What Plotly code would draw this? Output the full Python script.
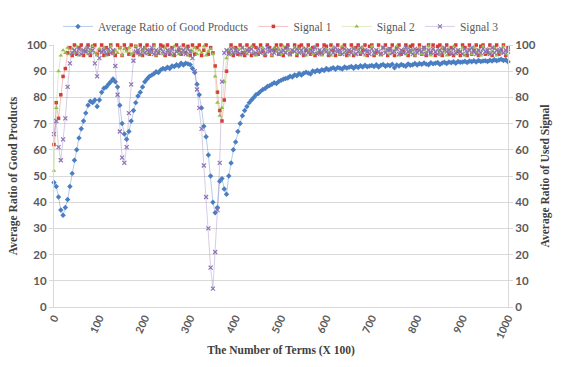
import plotly.graph_objects as go

# Terms (X 100), sampled every 5
terms = list(range(0, 1001, 5))

avg_good = [
    47.5, 46, 42, 37, 35, 38, 41, 46, 51, 56,
    60, 64.5, 68, 71, 74, 77, 78.5, 78, 79, 76.5,
    79, 82, 83.5, 84, 85, 86, 87, 86, 84, 77,
    70, 66, 64, 67, 71, 75, 78, 80.5, 82, 84,
    86, 87, 88, 88.5, 89, 89.8, 89.5, 90.5, 91, 90.8,
    91.5, 91, 92, 91.8, 92.5, 92, 93, 92.4, 93, 92.8,
    92.5, 91, 89.5, 85, 81, 76, 69, 65, 58, 50,
    40, 36, 38, 48, 49, 45, 43, 50, 55, 60,
    63, 67, 70, 73, 75, 76.5, 78, 79, 80, 81,
    81.5, 82.3, 83, 83.4, 84.2, 84.5, 85, 85.6, 85.3, 86.1,
    86.5, 86.9, 87.2, 87.4, 88.1, 87.8, 88.6, 88.3, 89.1, 88.5,
    89.2, 89.6, 89.3, 88.9, 90.1, 89.8, 90.4, 89.9, 90.6, 90.3,
    91, 90.5, 90.9, 91.3, 90.7, 91.4, 91.1, 90.8, 91.6, 91.2,
    91.5, 91.8, 91.1, 91.9, 91.4, 92.1, 91.6, 92.3, 91.7, 92,
    92.2, 91.8, 92.5, 91.6, 92.3, 92.6, 91.9, 92.4, 92.1, 92.7,
    91.3, 92.4, 92.0, 92.6, 92.2, 91.9, 92.8, 92.3, 92.5, 92.9,
    92.4, 92.9, 92.6, 93.1, 92.7, 92.5, 93.2, 92.8, 93.0, 93.3,
    92.6, 93.1, 93.4, 92.9, 93.5, 93.2, 93.6, 93.0, 93.7, 93.4,
    93.5, 93.8, 93.3, 93.9, 93.6, 94.0, 93.5, 94.1, 93.7, 93.9,
    94.0, 93.7, 94.2, 93.9, 94.4, 94.0, 94.3, 94.6, 94.1, 94.4,
    93.6,
]

signal1 = [
    62, 78, 72, 81, 88, 91, 97, 99, 96, 100,
    96.5, 99, 100, 96, 97.5, 100, 96, 99.5, 100, 96.5,
    98, 100, 96, 99, 96.5, 100, 97, 96, 100, 99,
    96, 100, 98.5, 96.5, 100, 96, 99.5, 97, 100, 96,
    99, 100, 96.5, 98, 100, 96, 97, 100, 99.5, 96,
    100, 96.5, 99, 96, 100, 98, 96.5, 100, 97, 99.5,
    96, 100, 96.5, 99, 100, 96, 98, 100, 96.5, 99,
    97, 92, 82, 75, 71, 79, 90, 97, 100, 96,
    99, 96.5, 100, 97, 96, 100, 98.5, 96, 100, 99,
    96.5, 100, 97.5, 96, 100, 99, 96, 98, 100, 96.5,
    100, 96, 99, 100, 96.5, 97.5, 100, 96, 99.5, 100,
    96, 98, 100, 96.5, 99, 96, 100, 97, 96.5, 100,
    99.5, 96, 100, 98, 96, 100, 96.5, 99, 100, 96,
    97.5, 100, 96, 99, 100, 96.5, 98, 100, 96, 99.5,
    100, 96, 97, 100, 96.5, 99, 100, 96, 98.5, 100,
    96, 99, 100, 96.5, 97.5, 100, 96, 99.5, 100, 96,
    98, 100, 96.5, 99, 96, 100, 97, 100, 96, 99.5,
    100, 96, 98.5, 100, 96.5, 99, 96, 100, 97.5, 96,
    100, 99, 96, 100, 96.5, 98, 100, 96, 99.5, 100,
    96.5, 97, 100, 96, 99, 100, 96.5, 98, 100, 96,
    99,
]

signal2 = [
    52, 76, 90, 96, 98, 97, 99, 96.5, 98.5, 97,
    99.5, 96, 98, 97.5, 99, 96.5, 98, 99.5, 97, 96,
    98.5, 97, 99, 96, 97.5, 99.5, 96.5, 98, 97, 99,
    96, 98.5, 97.5, 99, 96.5, 97, 99.5, 98, 96, 97.5,
    99, 96.5, 98, 97, 99.5, 96, 97.5, 98.5, 96.5, 99,
    97, 98, 96, 99.5, 97.5, 96.5, 98.5, 97, 99, 96,
    98, 97.5, 99, 96.5, 98, 97, 99.5, 96, 97.5, 98.5,
    96.5, 88, 78, 73, 76, 86, 95, 98, 96.5, 99,
    97, 98.5, 96, 99, 97.5, 96.5, 98, 99.5, 97, 96,
    98.5, 97, 99, 96.5, 97.5, 98, 96, 99, 97.5, 98.5,
    96.5, 99.5, 97, 98, 96, 97.5, 99, 96.5, 98.5, 97,
    99, 96, 97.5, 98.5, 96.5, 99.5, 97, 98, 96, 97.5,
    98.5, 97, 96, 99, 97.5, 98, 96.5, 99.5, 97, 98,
    96, 97.5, 99, 96.5, 98.5, 97, 99, 96, 98, 97.5,
    99.5, 96.5, 98, 97, 96, 99, 97.5, 98.5, 96.5, 97,
    98, 99.5, 96, 97.5, 98.5, 96.5, 99, 97, 98, 96,
    97.5, 99, 96.5, 98, 97, 99.5, 96, 98.5, 97, 98,
    96.5, 99, 97.5, 96, 98.5, 97, 99.5, 96.5, 98, 97.5,
    99, 96, 97.5, 98.5, 96.5, 99, 97, 98, 96, 99.5,
    97, 98.5, 96.5, 97.5, 99, 96, 98, 97, 99.5, 96.5,
    98,
]

signal3 = [
    66, 71, 61, 56, 64, 72, 84, 93, 97, 98,
    97, 98.5, 96.5, 98, 97.5, 99, 97, 98, 93, 88,
    95, 97.5, 98, 96.5, 98.5, 97, 98, 92, 81, 67,
    57, 55, 61, 74, 85, 94, 97.5, 98, 96.5, 98.5,
    97, 98, 97.5, 99, 96.5, 98, 97, 98.5, 97.5, 96.5,
    98, 97, 98.5, 96.5, 97.5, 99, 97, 98, 96.5, 98.5,
    97.5, 95, 90, 83, 76, 68, 54, 42, 30, 15,
    7, 21, 37, 55, 86, 97, 98, 96.5, 98.5, 97,
    98, 97.5, 96.5, 99, 97, 98, 97.5, 98.5, 96.5, 97,
    98.5, 97, 98, 96.5, 99, 97.5, 98, 97, 98.5, 96.5,
    97.5, 98, 97, 99, 96.5, 98, 97.5, 98.5, 97, 98,
    96.5, 98.5, 97, 98, 97.5, 99, 96.5, 98, 97, 98.5,
    97.5, 96.5, 98, 97, 99, 97.5, 98, 96.5, 98.5, 97,
    98, 97, 98.5, 96.5, 97.5, 99, 97, 98, 97.5, 96.5,
    98.5, 97, 98, 97.5, 96.5, 99, 97, 98, 98.5, 97,
    97.5, 98.5, 96.5, 98, 97, 99, 97.5, 98, 96.5, 98.5,
    97, 98, 97.5, 99, 96.5, 98, 97, 98.5, 97.5, 96.5,
    98, 97, 99, 97.5, 98, 96.5, 98.5, 97, 98, 97.5,
    96.5, 98.5, 97, 98, 99, 97.5, 96.5, 98, 97, 98.5,
    97.5, 98, 96.5, 99, 97, 98, 97.5, 98.5, 97, 98,
    97.5,
]

y_ticks = list(range(0, 101, 10))
x_ticks = list(range(0, 1001, 100))

series = [
    ("Average Ratio of Good Products", avg_good, "#4A7EC2", "rgba(74,126,194,0.5)", "diamond", 4.2, "y"),
    ("Signal 1", signal1, "#D83A34", "rgba(216,58,52,0.4)", "square", 3.5, "y2"),
    ("Signal 2", signal2, "#98BE4E", "rgba(152,190,78,0.4)", "triangle-up", 4.2, "y2"),
    ("Signal 3", signal3, "#8C72B6", "rgba(140,114,182,0.45)", "x-thin-open", 4, "y2"),
]

fig = go.Figure()
for name, vals, mc, lc, sym, size, ax in series:
    fig.add_trace(go.Scatter(
        x=terms, y=vals, name=name, mode="lines+markers", yaxis=ax,
        line=dict(color=lc, width=0.8),
        marker=dict(symbol=sym, size=size, color=mc,
                    line=dict(color=mc, width=1.2 if sym.startswith("x") else 0)),
        cliponaxis=False,
    ))

tick_font = dict(family="Lato, Liberation Sans, sans-serif", size=11.5, color="#595959", weight="bold")
title_font = dict(family="Liberation Serif, Times New Roman, serif", size=11.5, color="#404040")

fig.update_layout(
    width=562, height=367,
    margin=dict(l=54, r=48, t=34, b=52),
    paper_bgcolor="white", plot_bgcolor="white",
    showlegend=True,
    legend=dict(
        orientation="h", x=0.5, xanchor="center", y=1.071, yanchor="middle",
        font=dict(family="Liberation Serif, Times New Roman, serif", size=11.5, color="#595959"),
        itemwidth=30, itemsizing="trace", tracegroupgap=0,
        bgcolor="rgba(0,0,0,0)",
    ),
    xaxis=dict(
        range=[0, 1000], tickmode="array", tickvals=x_ticks, ticktext=[str(v) for v in x_ticks],
        tickangle=-65, tickfont=dict(family="Lato, Liberation Sans, sans-serif", size=10.5,
                                     color="#595959", weight="bold"),
        showgrid=False, showline=True, linecolor="#D9D9D9", linewidth=1, zeroline=False,
        ticks="", title=dict(text="<b>The Number of Terms (X 100)</b>", font=title_font, standoff=6),
    ),
    yaxis=dict(
        range=[0, 100], tickmode="array", tickvals=y_ticks, tickfont=tick_font,
        showgrid=True, gridcolor="#D9D9D9", gridwidth=1, zeroline=False,
        showline=True, linecolor="#D9D9D9", ticks="outside", ticklen=4, tickcolor="#D9D9D9",
        title=dict(text="<b>Average Ratio of Good Products</b>", font=title_font, standoff=6),
    ),
    yaxis2=dict(
        range=[0, 100], tickmode="array", tickvals=y_ticks, tickfont=tick_font,
        overlaying="y", side="right", showgrid=False, zeroline=False,
        showline=True, linecolor="#D9D9D9", ticks="outside", ticklen=4, tickcolor="#D9D9D9",
        title=dict(text="<b>Average Ratio of Used Signal</b>", font=title_font, standoff=6),
    ),
)

fig.write_html("out.html")
